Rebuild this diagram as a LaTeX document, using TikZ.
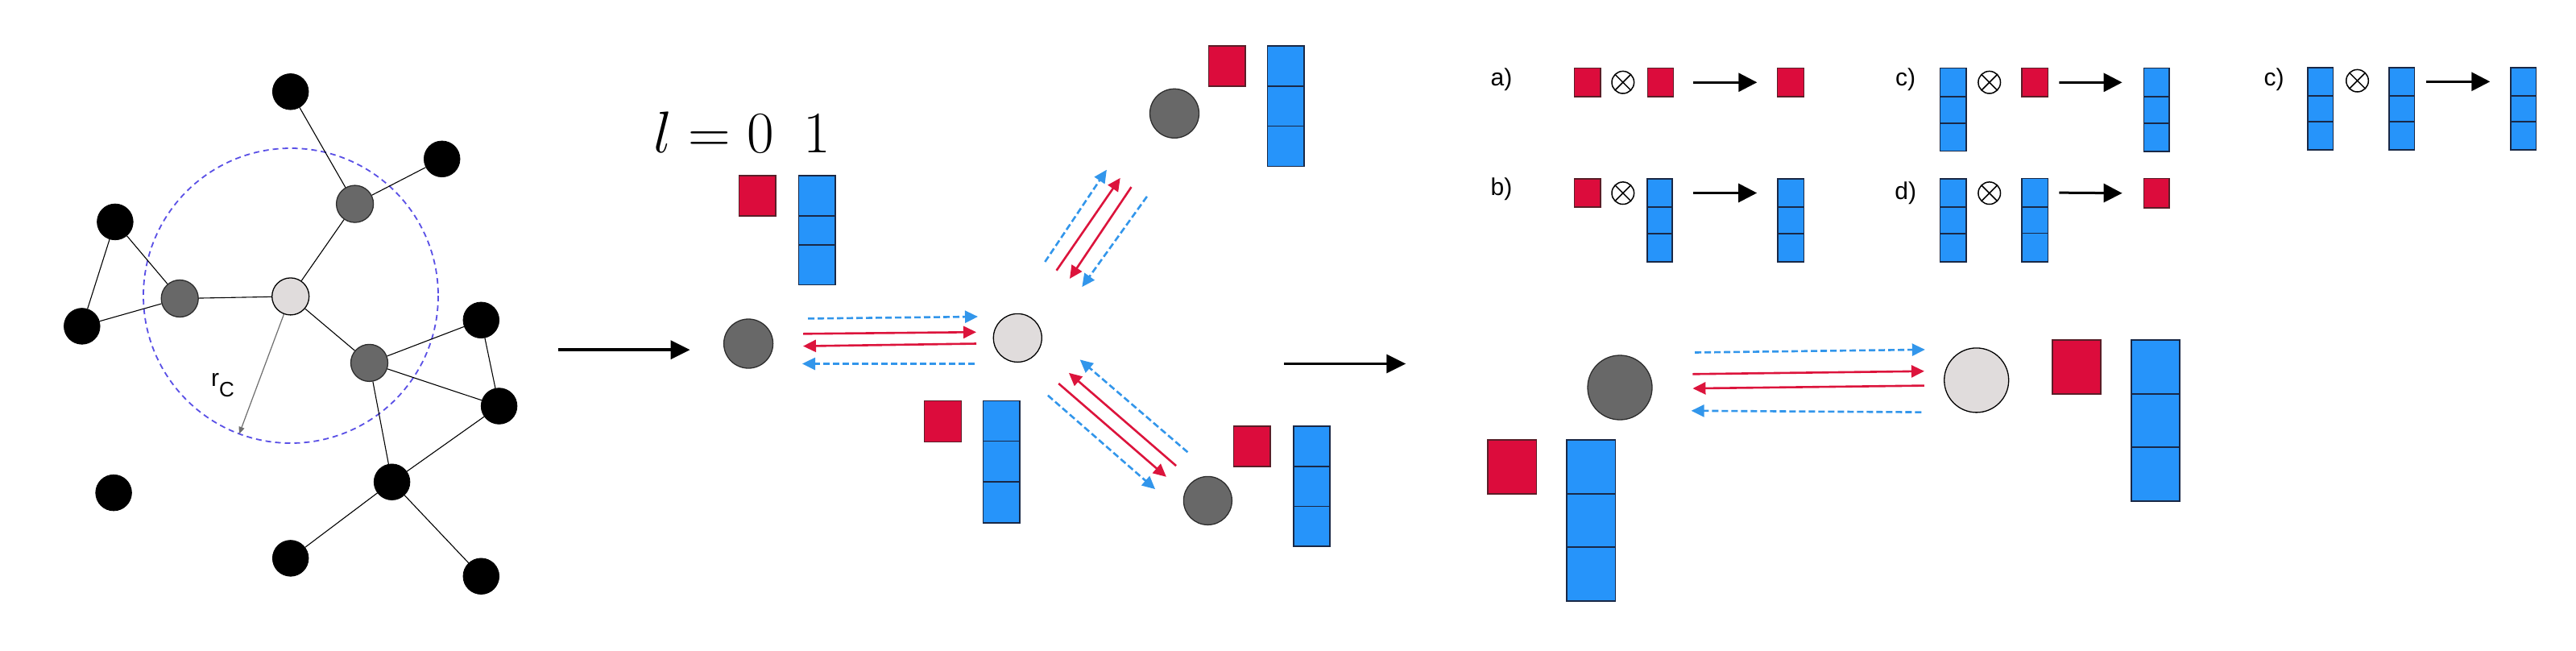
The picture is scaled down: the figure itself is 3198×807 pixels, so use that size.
\RequirePackage{fix-cm}
\documentclass[tikz,border=0pt]{standalone}
\usepackage{fontspec}
\newfontfamily\labfont{Liberation Sans}
\usetikzlibrary{arrows.meta}
\definecolor{boxred}{RGB}{220,12,60}
\definecolor{boxrededge}{RGB}{90,30,40}
\definecolor{boxblue}{RGB}{38,148,250}
\definecolor{boxblueedge}{RGB}{25,40,70}
\definecolor{arrred}{RGB}{220,20,60}
\definecolor{arrblue}{RGB}{50,150,235}
\definecolor{nodegray}{RGB}{104,104,104}
\definecolor{nodegrayedge}{RGB}{45,45,45}
\definecolor{nodelight}{RGB}{224,220,220}
\definecolor{rangecol}{RGB}{90,80,230}
\definecolor{rcgray}{RGB}{110,110,110}
\newcommand{\bcol}[7]{%
  \node[blueb, minimum width=#4pt, minimum height=#5pt] (#1a) at (#2,#3) {};
  \node[blueb, minimum width=#4pt, minimum height=#6pt] (#1b) at (#1a.south west) {};
  \node[blueb, minimum width=#4pt, minimum height=#7pt] (#1c) at (#1b.south west) {};}
\begin{document}
\begin{tikzpicture}[x=1pt,y=-1pt,
  blk/.style={circle, fill=black, draw=black, line width=0.8pt, minimum size=44.6pt, inner sep=0pt},
  gry/.style={circle, fill=nodegray, draw=nodegrayedge, line width=1.3pt, inner sep=0pt},
  lgt/.style={circle, fill=nodelight, draw=black, line width=1.3pt, inner sep=0pt},
  edge/.style={draw=black, line width=1.1pt},
  redb/.style={rectangle, fill=boxred, draw=boxrededge, line width=1.6pt, inner sep=0pt, outer sep=0pt, anchor=north west},
  blueb/.style={rectangle, fill=boxblue, draw=boxblueedge, line width=1.6pt, inner sep=0pt, outer sep=0pt, anchor=north west},
  bigarrow/.style={draw=black, line width=3.5pt, -{Triangle[length=24pt,width=23pt]}},
  fxarrow/.style={draw=black, line width=3pt, -{Triangle[length=23pt,width=23pt]}},
  redarr/.style={draw=arrred, line width=2.6pt, -{Triangle[length=16pt,width=15pt]}},
  bluearr/.style={draw=arrblue, line width=2.6pt, dash pattern=on 8pt off 4pt, -{Triangle[length=16pt,width=15pt]}},
  otimesnode/.style={circle, draw=black, line width=1.5pt, minimum size=27.6pt, inner sep=0pt,
    path picture={\draw[line width=1.5pt] (path picture bounding box.north west) -- (path picture bounding box.south east)
      (path picture bounding box.north east) -- (path picture bounding box.south west);}},
  lab/.style={font=\labfont\fontsize{30}{34}\selectfont, inner sep=0pt}
]
\useasboundingbox[fill=white] (0,0) rectangle (3198,807);

% ---------------- left graph ----------------
\draw[rangecol, line width=1.8pt, dash pattern=on 7pt off 5pt] (361,367) circle[radius=183];
\node[blk] (n1) at (360.7,113.8) {};
\node[blk] (n2) at (548.7,197.3) {};
\node[gry, minimum size=46pt] (g1) at (440.6,253.1) {};
\node[blk] (n3) at (142.9,275.4) {};
\node[gry, minimum size=46pt] (g2) at (223.2,370.5) {};
\node[lgt, minimum size=46pt] (c0) at (360.7,367.9) {};
\node[blk] (n4) at (101.8,404.9) {};
\node[blk] (n5) at (597.3,397.3) {};
\node[gry, minimum size=46pt] (g3) at (458.5,450.4) {};
\node[blk] (n6) at (619.6,504) {};
\node[blk] (n7) at (141.1,611.6) {};
\node[blk] (n8) at (486.6,598.2) {};
\node[blk] (n9) at (360.7,692.9) {};
\node[blk] (n10) at (597.3,715.2) {};
\draw[edge] (n1) -- (g1);
\draw[edge] (g1) -- (n2);
\draw[edge] (g1) -- (c0);
\draw[edge] (n3) -- (g2);
\draw[edge] (n3) -- (n4);
\draw[edge] (n4) -- (g2);
\draw[edge] (g2) -- (c0);
\draw[edge] (c0) -- (g3);
\draw[edge] (g3) -- (n5);
\draw[edge] (g3) -- (n6);
\draw[edge] (n5) -- (n6);
\draw[edge] (g3) -- (n8);
\draw[edge] (n6) -- (n8);
\draw[edge] (n8) -- (n9);
\draw[edge] (n8) -- (n10);
\coordinate (rcend) at (296.9,538.8);
\draw[draw=rcgray, line width=1.2pt, -{Triangle[length=9pt,width=7pt]}] (c0) -- (rcend);
\node[lab, anchor=base west] (rc) at (262,479) {r\raisebox{-13pt}{\fontsize{26}{30}\selectfont C}};

% ---------------- middle ----------------
\coordinate (s1) at (693.4,434.2);
\coordinate (e1) at (856.6,434.2);
\draw[bigarrow] (s1) -- (e1);
\node[anchor=base] (lval) at (921,189) {\fontsize{73}{80}\selectfont $l = 0\enspace 1$};

\node[gry, minimum size=61pt] (mL) at (929.1,426.5) {};
\node[lgt, minimum size=60pt] (mC) at (1263.3,419.4) {};
\node[gry, minimum size=61pt] (mT) at (1458,140.8) {};
\node[gry, minimum size=60pt] (mB) at (1499.4,621.4) {};

\node[redb, minimum width=45.5pt, minimum height=50pt] (rTL) at (917.3,217.9) {};
\bcol{bTL}{991.3}{217.9}{45.4}{50}{36.2}{49.5}
\node[redb, minimum width=46pt, minimum height=51pt] (rML) at (1147.4,497.4) {};
\bcol{bML}{1220.4}{497.4}{45.4}{50}{50.6}{51}
\node[redb, minimum width=45.4pt, minimum height=50pt] (rTR) at (1500.4,57.1) {};
\bcol{bTR}{1573.4}{57.1}{45.4}{50}{49.5}{50}
\node[redb, minimum width=45.5pt, minimum height=50pt] (rBR) at (1531.5,529) {};
\bcol{bBR}{1606}{529}{45}{50}{49.6}{49.6}

% horizontal message arrows
\coordinate (h1s) at (1003,395.4); \coordinate (h1e) at (1214,393);
\coordinate (h2s) at (997,414.3);  \coordinate (h2e) at (1212,412.2);
\coordinate (h3s) at (1212,426.5); \coordinate (h3e) at (997,429.6);
\coordinate (h4s) at (1210,451.5); \coordinate (h4e) at (996,451.5);
\draw[bluearr] (h1s) -- (h1e);
\draw[redarr] (h2s) -- (h2e);
\draw[redarr] (h3s) -- (h3e);
\draw[bluearr] (h4s) -- (h4e);
% upper diagonal
\coordinate (u1s) at (1297.3,325);   \coordinate (u1e) at (1373.9,210.7);
\coordinate (u2s) at (1311.6,335.7); \coordinate (u2e) at (1390.7,220.9);
\coordinate (u3s) at (1404.5,232.1); \coordinate (u3e) at (1328,345.9);
\coordinate (u4s) at (1423.9,243.9); \coordinate (u4e) at (1343.3,356.1);
\draw[bluearr] (u1s) -- (u1e);
\draw[redarr] (u2s) -- (u2e);
\draw[redarr] (u3s) -- (u3e);
\draw[bluearr] (u4s) -- (u4e);
% lower diagonal
\coordinate (d1s) at (1474.4,561.2); \coordinate (d1e) at (1340.7,446.4);
\coordinate (d2s) at (1460.1,578.1); \coordinate (d2e) at (1326.9,462.8);
\coordinate (d3s) at (1314.2,476);   \coordinate (d3e) at (1447.9,591.8);
\coordinate (d4s) at (1300.9,490.8); \coordinate (d4e) at (1434.1,607.1);
\draw[bluearr] (d1s) -- (d1e);
\draw[redarr] (d2s) -- (d2e);
\draw[redarr] (d3s) -- (d3e);
\draw[bluearr] (d4s) -- (d4e);

\coordinate (s2) at (1594.3,451.5);
\coordinate (e2) at (1745.3,451.5);
\draw[bigarrow, line width=3pt] (s2) -- (e2);

% ---------------- formulas ----------------
\node[lab] (la) at (1863.9,99.1) {a)};
\node[lab] (lb) at (1863.9,234.4) {b)};
\node[lab] (lc) at (2365.7,99.1) {c)};
\node[lab] (ld) at (2365.7,240.2) {d)};
\node[lab] (le) at (2823.2,98.8) {c)};

% a
\node[redb, minimum width=32.1pt, minimum height=35.7pt] (a1) at (1954.6,84.4) {};
\node[otimesnode] (ax) at (2014.8,102.2) {};
\node[redb, minimum width=31.7pt, minimum height=35.7pt] (a2) at (2045.6,84.4) {};
\node[redb, minimum width=33.1pt, minimum height=35.7pt] (a3) at (2206.3,84.4) {};
\draw[fxarrow] ([xshift=25pt]a2.east) -- ([xshift=-25pt]a3.west);
% b
\node[redb, minimum width=32.1pt, minimum height=35.2pt] (b1) at (1954.6,221.9) {};
\node[otimesnode] (bx) at (2014.8,239.7) {};
\bcol{bb}{2044.7}{221.9}{31.5}{35.2}{33.1}{34.8}
\bcol{bc}{2207.2}{221.9}{32.2}{35.2}{33.1}{34.8}
\draw[fxarrow] ([xshift=26pt]bba.east) -- ([xshift=-26pt]bca.west);
% c
\bcol{ca}{2408.6}{84.4}{32.6}{35.7}{33}{34.4}
\node[otimesnode] (cx) at (2469.7,102.2) {};
\node[redb, minimum width=32.1pt, minimum height=35.6pt] (c2) at (2510.2,84.6) {};
\bcol{cc}{2661.6}{84.6}{31.6}{35.4}{32.7}{35.2}
\draw[fxarrow] ([xshift=14pt]c2.east) -- ([xshift=-27pt]cca.west);
% d
\bcol{da}{2408.6}{221.9}{32.6}{35.2}{33.1}{34.8}
\node[otimesnode] (dx) at (2469.7,239.7) {};
\bcol{db}{2510.2}{221.3}{32.1}{35.7}{32.5}{35.5}
\node[redb, minimum width=31.6pt, minimum height=36.9pt] (d3) at (2661.6,221.3) {};
\draw[fxarrow] ([xshift=14pt]dba.east) -- ([xshift=-27pt]d3.west);
% second c
\bcol{ea}{2865.1}{83.7}{31.2}{35.2}{32}{35.2}
\node[otimesnode] (ex) at (2926.5,100.2) {};
\bcol{eb}{2966.2}{83.7}{31.1}{35.2}{32}{35.2}
\bcol{ec}{3117.1}{83.7}{31.2}{35.2}{32}{35.2}
\draw[fxarrow] ([xshift=14.3pt]eba.east) -- ([xshift=-25.8pt]eca.west);

% ---------------- bottom right ----------------
\node[gry, minimum size=80pt] (bG) at (2011,481) {};
\node[lgt, minimum size=80pt] (bL) at (2453.7,471.9) {};
\node[redb, minimum width=60.6pt, minimum height=67pt] (gR1) at (1846.7,546) {};
\bcol{gA}{1944.7}{546}{60.6}{66.7}{66.3}{67}
\node[redb, minimum width=60.1pt, minimum height=66.8pt] (gR2) at (2548.1,422.1) {};
\bcol{gB}{2646}{422.1}{60.1}{66.8}{66.3}{66.8}
\coordinate (k1s) at (2104.1,437.5); \coordinate (k1e) at (2389.8,433.9);
\coordinate (k2s) at (2101.4,464.3); \coordinate (k2e) at (2388.9,460.7);
\coordinate (k3s) at (2388.9,478.6); \coordinate (k3e) at (2101.4,482.1);
\coordinate (k4s) at (2385.4,511.6); \coordinate (k4e) at (2099.6,509.8);
\draw[bluearr] (k1s) -- (k1e);
\draw[redarr] (k2s) -- (k2e);
\draw[redarr] (k3s) -- (k3e);
\draw[bluearr] (k4s) -- (k4e);
\end{tikzpicture}
\end{document}
